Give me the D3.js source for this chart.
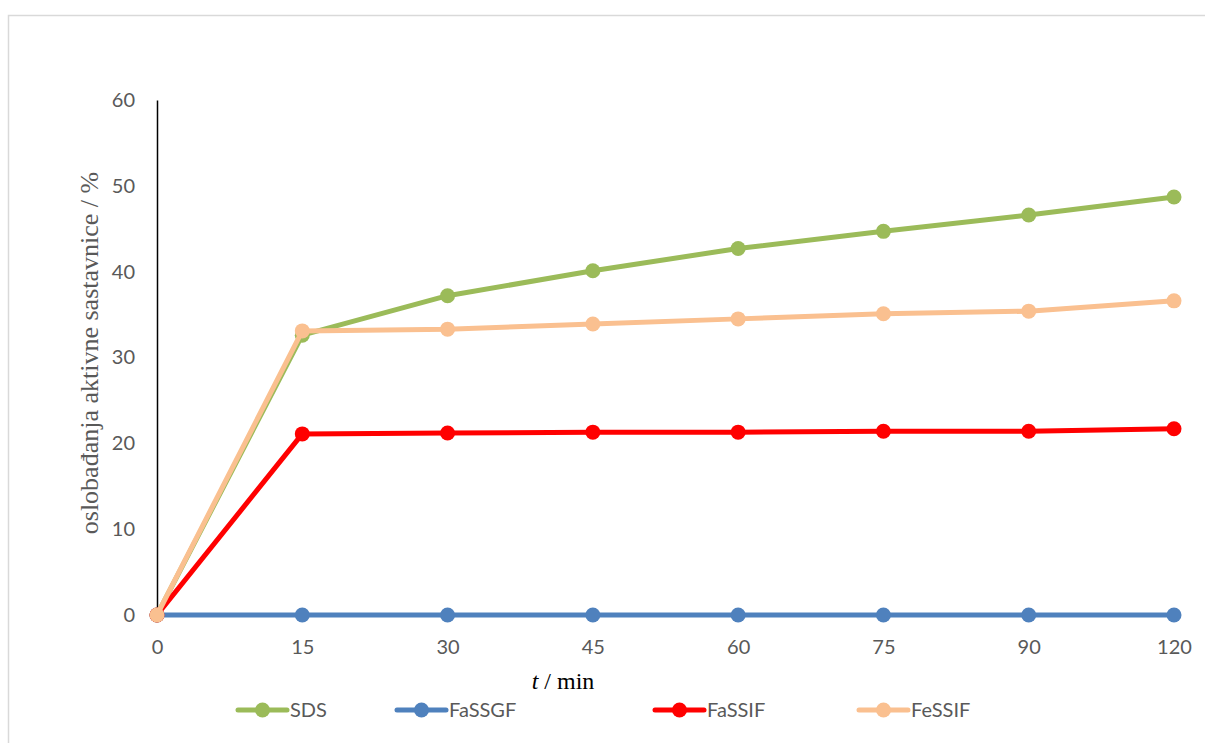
<!DOCTYPE html>
<html><head><meta charset="utf-8">
<script src="https://cdn.jsdelivr.net/npm/d3@7"></script>
<style>body{margin:0;background:#fff}</style>
</head><body>
<svg id="c" width="1205" height="743"></svg>
<script>
const categories = ["0","15","30","45","60","75","90","120"];
const seriesNames = ["SDS","FaSSGF","FaSSIF","FeSSIF"];
const seriesColors = ["#9BBB59","#4F81BD","#FF0000","#FAC090"];
const sds    = [0, 32.6, 37.2, 40.1, 42.7, 44.7, 46.6, 48.7];
const fassgf = [0, 0, 0, 0, 0, 0, 0, 0];
const fassif = [0, 21.1, 21.2, 21.3, 21.3, 21.4, 21.4, 21.7];
const fessif = [0, 33.1, 33.3, 33.9, 34.5, 35.1, 35.4, 36.6];
const yTicks = [0,10,20,30,40,50,60];
const seriesValues = [sds, fassgf, fassif, fessif];

const svg = d3.select("#c");
svg.append("rect").attr("x",8.5).attr("y",15.5).attr("width",1210).attr("height",740)
  .attr("fill","#fff").attr("stroke","#d9d9d9").attr("stroke-width",1.5);

const x = d3.scalePoint().domain(categories).range([157,1174]);
const y = d3.scaleLinear().domain([0,60]).range([615,100]);

const font = "Lato, Calibri, sans-serif";
const fs = 20;
// y axis
const ya = svg.append("g").attr("transform","translate(157,0)")
  .call(d3.axisLeft(y).tickValues(yTicks).tickSize(0).tickPadding(22));
ya.select(".domain").attr("stroke","#000").attr("stroke-width",1.5);
ya.selectAll("text").attr("font-family",font).attr("font-size",fs).attr("fill","#595959");

// x axis
const xa = svg.append("g").attr("transform","translate(0,615)")
  .call(d3.axisBottom(x).tickSize(0).tickPadding(25));
xa.select(".domain").remove();
xa.selectAll("text").attr("font-family",font).attr("font-size",fs).attr("fill","#595959");

// titles
svg.append("text").attr("transform","translate(98,353) rotate(-90)")
  .attr("text-anchor","middle").attr("font-family","'Liberation Serif', 'Times New Roman', serif")
  .attr("font-size",26).attr("fill","#595959").text("oslobađanja aktivne sastavnice / %");
const xt = svg.append("text").attr("x",563).attr("y",689).attr("text-anchor","middle")
  .attr("font-family","'Liberation Serif', 'Times New Roman', serif").attr("font-size",24).attr("fill","#000");
xt.append("tspan").attr("font-style","italic").text("t");
xt.append("tspan").text(" / min");

// lines
const line = d3.line().x((d,i)=>x(categories[i])).y(d=>y(d));
seriesValues.forEach((vals,k)=>{
  const g = svg.append("g");
  g.append("path").datum(vals).attr("d",line).attr("fill","none")
    .attr("stroke",seriesColors[k]).attr("stroke-width",5).attr("stroke-linejoin","round");
  g.selectAll("circle").data(vals).join("circle")
    .attr("cx",(d,i)=>x(categories[i])).attr("cy",d=>y(d)).attr("r",7.5).attr("fill",seriesColors[k]);
});

// legend
const legX = [238,397,655,859];
seriesNames.forEach((n,k)=>{
  const g = svg.append("g").attr("transform",`translate(${legX[k]},710)`);
  g.append("line").attr("x1",0).attr("x2",49).attr("y1",0).attr("y2",0)
    .attr("stroke",seriesColors[k]).attr("stroke-width",5).attr("stroke-linecap","round");
  g.append("circle").attr("cx",24.5).attr("cy",0).attr("r",7.5).attr("fill",seriesColors[k]);
  g.append("text").attr("x",52).attr("y",0).attr("dy","0.35em")
    .attr("font-family",font).attr("font-size",fs).attr("fill","#595959").text(n);
});
</script>
</body></html>
